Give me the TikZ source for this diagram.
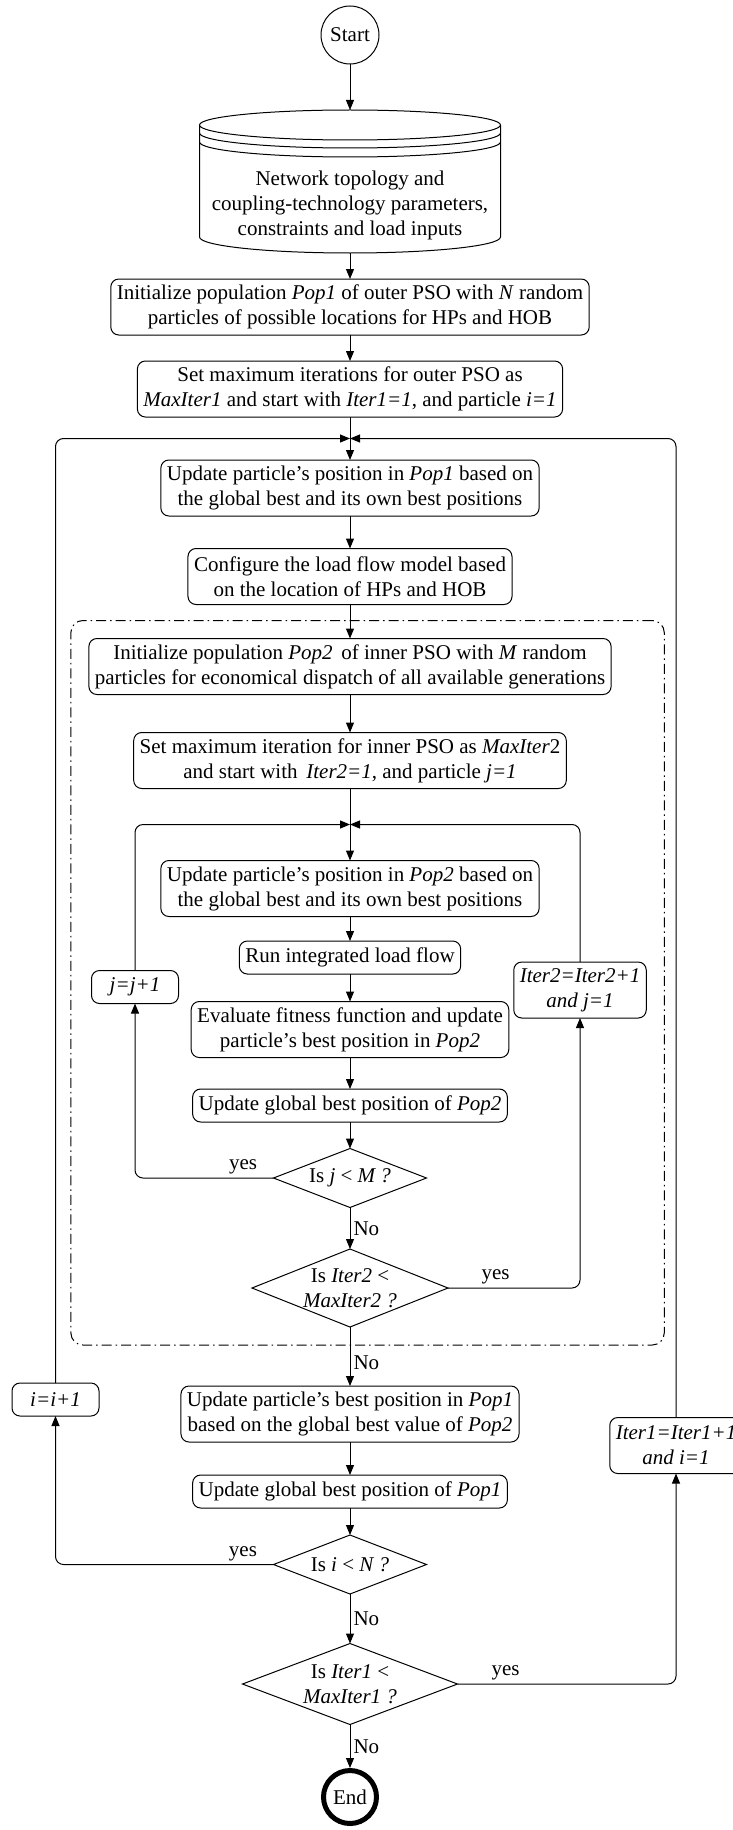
\documentclass[tikz,border=0pt]{standalone}
\usepackage{fontspec}
\setmainfont{Liberation Serif}
\usetikzlibrary{positioning,shapes.geometric,arrows.meta,fit,calc}

\tikzset{
  base/.style={font=\fontsize{21pt}{25pt}\selectfont, line width=1pt, outer sep=0pt},
  terminal/.style={base, draw, circle, minimum size=58pt, inner sep=0pt},
  process/.style={base, draw, rounded corners=8pt, align=center, inner xsep=6pt, inner ysep=0pt, minimum height=56pt},
  process1/.style={process, minimum height=33pt},
  counter/.style={process1, minimum width=87pt},
  decision/.style={base, draw, diamond, aspect=2.6, align=center, inner sep=-4pt, minimum width=153pt, minimum height=59pt},
  flow/.style={line width=1pt, -{Triangle[length=10pt,width=8pt]}},
  loop/.style={flow, rounded corners=8pt},
  groupbox/.style={draw, line width=1pt, rounded corners=12pt, dash pattern=on 10pt off 4pt on 1.5pt off 4pt},
  lbl/.style={font=\fontsize{21pt}{25pt}\selectfont, inner sep=3pt},
}

\begin{document}
\begin{tikzpicture}[x=1pt, y=1pt]
  \useasboundingbox (0,0) rectangle (733,-1830);

  % Nodes
  \node[terminal] (start) at (350,-35) {Start};
  \node[base, align=center, inner sep=0pt, minimum width=301pt, minimum height=96pt, below=93pt of start] (db)
    {Network topology and\\coupling-technology parameters,\\constraints and load inputs};
  \node[process, below=26pt of db] (init1)
    {Initialize population \textit{Pop1} of outer PSO with \textit{N} random\\particles of possible locations for HPs and HOB};
  \node[process, below=26pt of init1] (setmax1)
    {Set maximum iterations for outer PSO as\\\textit{MaxIter1} and start with \textit{Iter1=1}, and particle \textit{i=1}};
  \node[process, below=43pt of setmax1] (upd1)
    {Update particle's position in \textit{Pop1} based on\\the global best and its own best positions};
  \node[process, below=32.5pt of upd1] (config)
    {Configure the load flow model based\\on the location of HPs and HOB};
  \node[process, below=34pt of config] (init2)
    {Initialize population \textit{Pop2}\, of inner PSO with \textit{M} random\\particles for economical dispatch of all available generations};
  \node[process, below=38pt of init2] (setmax2)
    {Set maximum iteration for inner PSO as \textit{MaxIter}2\\and start with\, \textit{Iter2=1}, and particle \textit{j=1}};
  \node[process, below=72pt of setmax2] (upd2)
    {Update particle's position in \textit{Pop2} based on\\the global best and its own best positions};
  \node[process1, below=24.5pt of upd2] (runlf) {Run integrated load flow};
  \node[process, below=27.5pt of runlf] (evalfit)
    {Evaluate fitness function and update\\particle's best position in \textit{Pop2}};
  \node[process1, below=31.5pt of evalfit] (gbest2) {Update global best position of \textit{Pop2}};
  \node[decision, below=26.5pt of gbest2] (isj) {Is \textit{j} < \textit{M ?}};
  \node[decision, minimum width=196pt, minimum height=78pt, below=41.5pt of isj] (isiter2)
    {Is \textit{Iter2} <\\\textit{MaxIter2 ?}};
  \node[process, below=59pt of isiter2] (updbest1)
    {Update particle's best position in \textit{Pop1}\\based on the global best value of \textit{Pop2}};
  \node[process1, below=33pt of updbest1] (gbest1) {Update global best position of \textit{Pop1}};
  \node[decision, below=27pt of gbest1] (isi) {Is \textit{i} < \textit{N ?}};
  \node[decision, minimum width=215pt, minimum height=81pt, below=49.5pt of isi] (isiter1)
    {Is \textit{Iter1} <\\\textit{MaxIter1 ?}};
  \node[terminal, line width=5pt, minimum size=53pt, below=46pt of isiter1] (stop) {End};

  % Counters on the loops
  \node[counter] (jinc) at (135,-987) {\textit{j=j+1}};
  \node[process] (iter2inc) at (580,-990) {\textit{Iter2=Iter2+1}\\\textit{and j=1}};
  \node[counter] (iinc) at (55.5,-1399.5) {\textit{i=i+1}};
  \node[process] (iter1inc) at (676,-1445.5) {\textit{Iter1=Iter1+1}\\\textit{and i=1}};

  \node[groupbox, fit=(init2) (jinc) (iter2inc) (isiter2), inner sep=18pt] (inner) {};

  \coordinate (oj) at ($(setmax1.south)!0.5!(upd1.north)$);
  \coordinate (ij) at ($(setmax2.south)!0.5!(upd2.north)$);

  % Cylinder outline
  \draw[line width=1pt] ([yshift=32pt]db.north west) -- ([yshift=16pt]db.south west)
    arc[start angle=180, end angle=360, x radius=150.5pt, y radius=16pt]
    -- ([yshift=32pt]db.north east)
    arc[start angle=0, end angle=360, x radius=150.5pt, y radius=15pt];
  \draw[line width=1pt] ([yshift=24pt]db.north west) arc[start angle=180, end angle=360, x radius=150.5pt, y radius=15pt];
  \draw[line width=1pt] ([yshift=15pt]db.north west) arc[start angle=180, end angle=360, x radius=150.5pt, y radius=15pt];

  % Edges
  \draw[flow] (start) -- ([yshift=47pt]db.north);
  \draw[flow] (db) -- (init1);
  \draw[flow] (init1) -- (setmax1);
  \draw[flow] (setmax1) -- (upd1);
  \draw[flow] (upd1) -- (config);
  \draw[flow] (config) -- (init2);
  \draw[flow] (init2) -- (setmax2);
  \draw[flow] (setmax2) -- (upd2);
  \draw[flow] (upd2) -- (runlf);
  \draw[flow] (runlf) -- (evalfit);
  \draw[flow] (evalfit) -- (gbest2);
  \draw[flow] (gbest2) -- (isj);
  \draw[flow] (isj) -- node[lbl, right] {No} (isiter2);
  \draw[flow] (isiter2) -- node[lbl, right, pos=0.6] {No} (updbest1);
  \draw[flow] (updbest1) -- (gbest1);
  \draw[flow] (gbest1) -- (isi);
  \draw[flow] (isi) -- node[lbl, right] {No} (isiter1);
  \draw[flow] (isiter1) -- node[lbl, right] {No} ([yshift=2.5pt]stop.north);

  % Loops
  \draw[loop] (isj.west) -| node[lbl, above, pos=0.11] {yes} (jinc.south);
  \draw[loop] (jinc.north) |- (ij);
  \draw[loop] (isiter2.east) -| node[lbl, above, pos=0.18] {yes} (iter2inc.south);
  \draw[loop] (iter2inc.north) |- (ij);
  \draw[loop] (isi.west) -| node[lbl, above, pos=0.07] {yes} (iinc.south);
  \draw[loop] (iinc.north) |- (oj);
  \draw[loop] (isiter1.east) -| node[lbl, above, pos=0.11] {yes} (iter1inc.south);
  \draw[loop] (iter1inc.north) |- (oj);
\end{tikzpicture}
\end{document}
